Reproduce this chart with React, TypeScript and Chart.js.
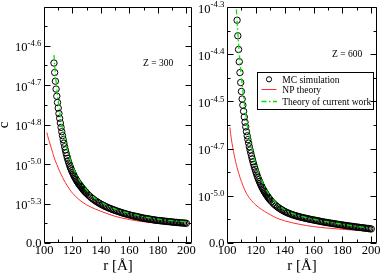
import React, { useEffect, useRef } from 'react';
import { Chart, registerables } from 'chart.js';
Chart.register(...registerables);

// ---- data (c in units of 1e-6) ----
const mcR = [107,107.5,108,108.5,109,109.5,110,110.5,111,111.5,112,112.5,113,113.5,114,114.5,115,115.5,116,116.5,117,117.5,118,118.5,119,119.5,120,120.5,121,121.5,122,122.5,123,123.5,124,124.5,125,125.5,126,126.5,127,127.5,128,128.5,129,129.5,130,
131,132,133,134,135,136,137,138,139,140,141,142,143,144,145,146,147,148,149,150,151,152,153,154,155,156,157,158,159,160,161,162,163,164,165,166,167,168,169,170,171,172,173,174,175,176,177,178,179,180,181,182,183,184,185,186,187,188,189,190,191,192,193,194,195,196,197,198,199,200];

const mcZ300 = [22.8,21.6,20.5,19.5,18.6,17.8,17.1,16.4,15.8,15.2,14.65,14.1,13.6,13.1,12.65,12.2,11.8,11.42,11.06,10.73,10.42,10.13,9.86,9.61,9.38,9.16,8.95,8.75,8.56,8.38,8.21,8.05,7.9,7.76,7.62,7.49,7.37,7.25,7.14,7.02,6.9,6.79,6.68,6.58,6.48,6.38,6.29,
6.11,5.94,5.78,5.63,5.49,5.36,5.24,5.13,5.02,4.92,4.82,4.73,4.64,4.56,4.48,4.4,4.33,4.26,4.19,4.13,4.06,4.0,3.94,3.88,3.82,3.76,3.71,3.66,3.61,3.56,3.51,3.47,3.43,3.39,3.35,3.31,3.27,3.23,3.19,3.15,3.12,3.09,3.06,3.03,3.0,2.97,2.94,2.91,2.88,2.86,2.84,2.82,2.8,2.78,2.76,2.74,2.72,2.7,2.68,2.66,2.64,2.62,2.61,2.59,2.57,2.56,2.54,2.53,2.51,2.5];

const mcZ600 = [47.2,43.9,41.0,38.4,36.1,34.0,32.1,30.5,29.2,27.9,26.7,25.6,24.6,23.6,22.7,21.9,21.15,20.4,19.7,19.05,18.4,17.8,17.2,16.65,16.1,15.6,15.1,14.65,14.2,13.8,13.4,13.02,12.66,12.32,12.0,11.7,11.4,11.12,10.85,10.6,10.36,10.13,9.91,9.7,9.5,9.3,9.11,
8.76,8.44,8.14,7.88,7.64,7.42,7.21,7.02,6.84,6.68,6.53,6.39,6.26,6.14,6.03,5.93,5.83,5.74,5.65,5.57,5.49,5.41,5.34,5.27,5.2,5.13,5.06,5.0,4.94,4.88,4.82,4.76,4.7,4.64,4.57,4.51,4.45,4.4,4.35,4.3,4.25,4.2,4.15,4.1,4.05,4.0,3.95,3.9,3.86,3.81,3.77,3.72,3.68,3.63,3.59,3.55,3.5,3.46,3.42,3.38,3.34,3.3,3.26,3.22,3.18,3.14,3.1,3.06,3.02,2.98];

const npR300 = [102,103,104,105,106,107,108,109,110,111,112,113,114,115,116,118,120,122,124,126,128,130,133,136,140,145,150,155,160,165,170,175,180,185,190,195,200];
const npZ300 = [14.0,13.3,12.7,12.1,11.5,10.9,10.4,9.95,9.5,9.08,8.7,8.33,7.98,7.65,7.35,6.8,6.32,5.95,5.6,5.3,5.05,4.83,4.55,4.3,4.02,3.68,3.38,3.15,2.97,2.82,2.69,2.58,2.49,2.41,2.35,2.3,2.26];

const npR600 = [102,102.5,103,103.5,104,105,106,107,108,109,110,111,112,113,114,115,116,117,118,119,120,122,124,126,128,130,133,136,140,145,150,155,160,165,170,175,180,185,190,195,200];
const npZ600 = [24.5,23.2,22.1,21.1,20.2,18.6,17.2,16.0,14.9,13.9,13.0,12.2,11.45,10.8,10.25,9.78,9.36,8.98,8.64,8.33,8.05,7.55,7.1,6.7,6.33,6.0,5.5,5.1,4.7,4.3,3.98,3.7,3.48,3.3,3.15,3.02,2.9,2.8,2.71,2.63,2.56];

const thR300 = [107,107.5,108,109,110,111,112,113,114,115,116,118,120,122,124,126,128,130,133,136,140,145,150,155,160,170,180,190,200];
const thZ300 = [23.8,22.5,21.4,19.55,18.0,16.7,15.55,14.5,13.6,12.8,12.08,10.85,9.8,8.95,8.22,7.63,7.12,6.7,6.14,5.68,5.2,4.7,4.32,4.01,3.75,3.33,3.03,2.83,2.68];

const thR600 = [106.5,107,107.5,108,109,110,111,112,113,114,115,116,118,120,122,124,126,128,130,133,136,140,145,150,155,160,170,180,190,200];
const thZ600 = [49.5,47.0,44.6,42.3,38.4,35.1,32.2,29.6,27.3,25.2,23.35,21.7,19.0,16.7,14.85,13.3,12.0,10.85,9.93,8.8,7.93,7.05,6.35,5.82,5.4,5.04,4.46,3.97,3.54,3.1];

const xMajorTicks = [100,120,140,160,180,200];
const xMinorTicks = [110,130,150,170,190];

const yMajor300 = [0,5e-6,1e-5,1.5e-5,2e-5,2.5e-5];
const yMinor300 = [2.5e-6,7.5e-6,1.25e-5,1.75e-5,2.25e-5,2.75e-5];
const yLabels300 = ['0.0','10^-5.3','10^-5.0','10^-4.8','10^-4.7','10^-4.6'];

const yMajor600 = [0,1e-5,2e-5,3e-5,4e-5,5e-5];
const yMinor600 = [5e-6,1.5e-5,2.5e-5,3.5e-5,4.5e-5];
const yLabels600 = ['0.0','10^-5.0','10^-4.7','10^-4.5','10^-4.4','10^-4.3'];

const legendLabels = ['MC simulation','NP theory','Theory of current work'];

const SERIF = '"Liberation Serif", "Times New Roman", serif';
const RED = 'rgb(255,45,45)';
const GREEN = 'rgb(0,225,0)';
const DASH = [5, 2.5, 1.5, 2.5];

function pts(xs: number[], ys: number[]) {
  return xs.map((x, i) => ({ x, y: ys[i] * 1e-6 }));
}

function framePlugin(opts: any) {
  return {
    id: 'frame' + opts.name,
    afterDraw(chart: any) {
      const { ctx, chartArea: a } = chart;
      const xs = chart.scales.x;
      const ys = chart.scales.y;
      const L = Math.round(a.left) + 0.5, R = Math.round(a.right) - 0.5;
      const T = Math.round(a.top) + 0.5, B = Math.round(a.bottom) - 0.5;
      ctx.save();
      ctx.strokeStyle = '#000';
      ctx.lineWidth = 1;
      ctx.beginPath();
      ctx.rect(L, T, R - L, B - T);
      const tick = (x1: number, y1: number, x2: number, y2: number) => { ctx.moveTo(x1, y1); ctx.lineTo(x2, y2); };
      xMajorTicks.forEach(v => { const p = Math.round(xs.getPixelForValue(v)) + 0.5; tick(p, B, p, B - 6); tick(p, T, p, T + 6); });
      xMinorTicks.forEach(v => { const p = Math.round(xs.getPixelForValue(v)) + 0.5; tick(p, B, p, B - 3); tick(p, T, p, T + 3); });
      opts.yMajor.forEach((v: number) => { const p = Math.round(ys.getPixelForValue(v)) + 0.5; tick(L, p, L + 6, p); tick(R, p, R - 6, p); });
      opts.yMinor.forEach((v: number) => { const p = Math.round(ys.getPixelForValue(v)) + 0.5; tick(L, p, L + 3, p); tick(R, p, R - 3, p); });
      ctx.stroke();

      ctx.fillStyle = '#000';
      ctx.font = '12.5px ' + SERIF;
      ctx.textAlign = 'center';
      ctx.textBaseline = 'alphabetic';
      xMajorTicks.forEach(v => ctx.fillText(String(v), xs.getPixelForValue(v), a.bottom + 11));
      opts.yMajor.forEach((v: number, i: number) => {
        const p = ys.getPixelForValue(v);
        const lab: string = opts.yLabels[i];
        const right = a.left - 2.5;
        ctx.textAlign = 'left';
        if (lab.indexOf('^') < 0) {
          ctx.font = '12.5px ' + SERIF;
          const w = ctx.measureText(lab).width;
          ctx.fillText(lab, right - w, p + 4.2);
        } else {
          const [base, exp] = lab.split('^');
          ctx.font = '12.5px ' + SERIF;
          const w1 = ctx.measureText(base).width;
          ctx.font = '8.8px ' + SERIF;
          const w2 = ctx.measureText(exp).width;
          ctx.font = '12.5px ' + SERIF;
          ctx.fillText(base, right - w1 - w2, p + 5.5);
          ctx.font = '8.8px ' + SERIF;
          ctx.fillText(exp, right - w2, p + 0.2);
        }
      });
      ctx.font = '15px ' + SERIF;
      ctx.textAlign = 'center';
      ctx.fillText('r [\u00C5]', (a.left + a.right) / 2, 270);
      ctx.font = '9.5px ' + SERIF;
      ctx.textAlign = 'left';
      ctx.fillText(opts.zText, opts.zX, opts.zY);
      if (opts.yTitle) {
        ctx.save();
        ctx.font = '15px ' + SERIF;
        ctx.translate(7.5, (a.top + a.bottom) / 2);
        ctx.rotate(-Math.PI / 2);
        ctx.textAlign = 'center';
        ctx.fillText('c', 0, 0);
        ctx.restore();
      }
      if (opts.legend) {
        const lx = 60.5, ly = 72.5, lw = 116, lh = 37;
        ctx.strokeStyle = '#000';
        ctx.lineWidth = 1;
        ctx.strokeRect(lx, ly, lw, lh);
        ctx.beginPath();
        ctx.arc(72, 79.3, 2.6, 0, Math.PI * 2);
        ctx.strokeStyle = '#000';
        ctx.lineWidth = 1;
        ctx.stroke();
        ctx.beginPath();
        ctx.strokeStyle = RED;
        ctx.lineWidth = 1;
        ctx.moveTo(64.5, 89.5); ctx.lineTo(79.5, 89.5);
        ctx.stroke();
        ctx.beginPath();
        ctx.strokeStyle = GREEN;
        ctx.lineWidth = 1.4;
        ctx.setLineDash(DASH);
        ctx.moveTo(64.5, 101.5); ctx.lineTo(80, 101.5);
        ctx.stroke();
        ctx.setLineDash([]);
        ctx.fillStyle = '#000';
        ctx.font = '9.5px ' + SERIF;
        ctx.textAlign = 'left';
        ctx.fillText(legendLabels[0], 85.3, 82.6);
        ctx.fillText(legendLabels[1], 85.3, 92.6);
        ctx.fillText(legendLabels[2], 85.3, 104.6);
      }
      ctx.restore();
    },
  };
}

function makeConfig(mc: number[], npR: number[], np: number[], thR: number[], th: number[], yMax: number, padding: any, plugin: any): any {
  return {
    type: 'scatter',
    data: {
      datasets: [
        { label: legendLabels[2], data: pts(thR, th), showLine: true, pointRadius: 0, borderColor: GREEN, borderWidth: 1.3, borderDash: DASH, cubicInterpolationMode: 'monotone', order: 0 },
        { label: legendLabels[0], data: pts(mcR, mc), showLine: false, pointRadius: 3.2, pointStyle: 'circle', borderColor: '#000', backgroundColor: 'rgba(0,0,0,0)', pointBorderWidth: 1, borderWidth: 1, order: 1 },
        { label: legendLabels[1], data: pts(npR, np), showLine: true, pointRadius: 0, borderColor: RED, borderWidth: 1, cubicInterpolationMode: 'monotone', order: 2 },
      ],
    },
    options: {
      responsive: false,
      animation: false,
      devicePixelRatio: 1,
      layout: { padding },
      plugins: { legend: { display: false }, tooltip: { enabled: false } },
      events: [],
      scales: {
        x: { type: 'linear', min: 100, max: 204, display: false },
        y: { type: 'linear', min: 0, max: yMax, display: false },
      },
    },
    plugins: [plugin],
  };
}

export default function App() {
  const leftRef = useRef<HTMLCanvasElement>(null);
  const rightRef = useRef<HTMLCanvasElement>(null);
  useEffect(() => {
    const c1 = new Chart(leftRef.current as HTMLCanvasElement, makeConfig(
      mcZ300, npR300, npZ300, thR300, thZ300, 2.99e-5,
      { left: 44, top: 7, right: 1, bottom: 32 },
      framePlugin({ name: 'L', yMajor: yMajor300, yMinor: yMinor300, yLabels: yLabels300, zText: 'Z = 300', zX: 143, zY: 66.3, yTitle: true, legend: false })
    ));
    const c2 = new Chart(rightRef.current as HTMLCanvasElement, makeConfig(
      mcZ600, npR600, npZ600, thR600, thZ600, 5e-5,
      { left: 30, top: 7, right: 4, bottom: 32 },
      framePlugin({ name: 'R', yMajor: yMajor600, yMinor: yMinor600, yLabels: yLabels600, zText: 'Z = 600', zX: 135, zY: 56.5, yTitle: false, legend: true })
    ));
    return () => { c1.destroy(); c2.destroy(); };
  }, []);
  return (
    <div style={{ position: 'fixed', left: 0, top: 0, width: 382, height: 275, background: '#fff' }}>
      <canvas ref={leftRef} width={197} height={275} style={{ position: 'absolute', left: 0, top: 0, width: 197, height: 275 }} />
      <canvas ref={rightRef} width={185} height={275} style={{ position: 'absolute', left: 197, top: 0, width: 185, height: 275 }} />
    </div>
  );
}
